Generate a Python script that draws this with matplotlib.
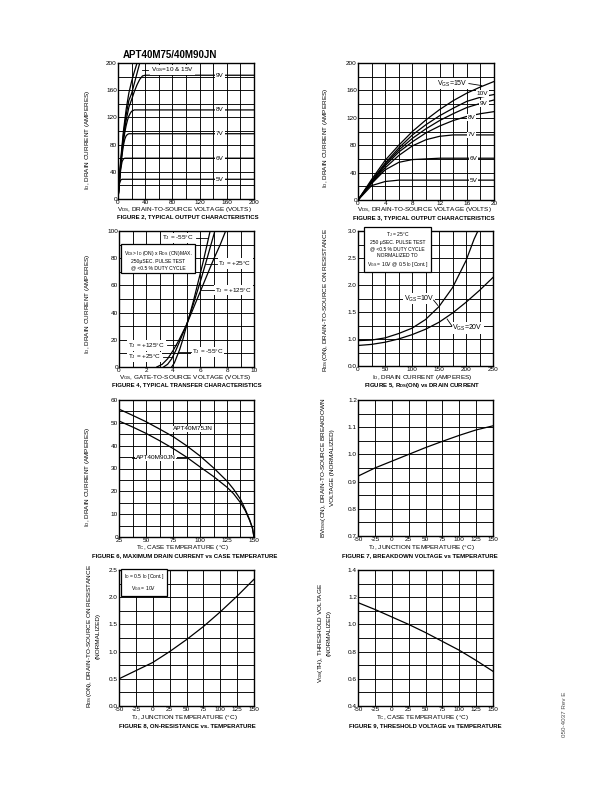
"""APT40M75/40M90JN datasheet page: typical characteristic curves (figures 2-9)."""
import matplotlib
matplotlib.use("Agg")
import matplotlib.pyplot as plt
import numpy as np

plt.rcParams['font.family'] = ['Liberation Sans', 'DejaVu Sans']
plt.rcParams['mathtext.default'] = 'regular'
plt.rcParams['axes.unicode_minus'] = False

# ---- figure 2 / 3: output characteristics, I_D vs V_DS per V_GS
f2_vgs = ['5V', '6V', '7V', '8V', '9V', '10V', '15V']
f2_vds = {'5V': [0, 2, 4, 6, 200],
          '6V': [0, 2, 4, 6, 8, 10, 12, 200],
          '7V': [0, 2, 4, 6, 8, 10, 12, 14, 16, 200],
          '8V': [0, 2, 4, 6, 8, 10, 12, 14, 16, 18, 20, 24, 28, 200],
          '9V': [0, 4, 8, 12, 16, 20, 24, 28, 32, 36, 40, 200],
          '10V': [0, 4, 8, 12, 16, 20, 24, 28, 32],
          '15V': [0, 4, 8, 12, 16, 20, 24, 28]}
f2_id = {'5V': [0, 22, 28, 29, 29],
         '6V': [0, 24, 44, 55, 59, 60, 60, 60],
         '7V': [0, 25, 47, 65, 79, 88, 93, 95, 96, 96],
         '8V': [0, 26, 50, 70, 85, 98, 108, 116, 122, 126, 129, 131, 131, 131],
         '9V': [0, 52, 90, 116, 135, 146, 158, 168, 176, 181, 182, 182],
         '10V': [0, 54, 95, 124, 145, 155, 170, 185, 200],
         '15V': [0, 58, 100, 132, 156, 173, 187, 200]}

f3_vds = [0, 2, 4, 6, 8, 10, 12, 14, 16, 18, 20]
f3_id = {'5V': [0, 21, 27, 29, 29, 29, 29, 29, 29, 29, 29],
         '6V': [0, 24, 44, 55, 59, 60, 61, 61, 61, 61, 61],
         '7V': [0, 25, 47, 65, 79, 88, 93, 95, 95, 95, 95],
         '8V': [0, 26, 50, 70, 85, 98, 108, 116, 122, 126, 129],
         '9V': [0, 27, 52, 73, 90, 104, 116, 126, 135, 141, 146],
         '10V': [0, 28, 54, 76, 95, 110, 123, 134, 144, 150, 154],
         '15V': [0, 30, 58, 80, 100, 117, 132, 145, 156, 165, 173]}

# ---- figure 4: transfer characteristics
f4_vgs = {'-55': [3.9, 4.1, 4.3, 4.5, 4.75, 5.0, 5.25, 5.5, 5.75, 6.0, 6.25, 6.5, 6.75],
          '+25': [3.3, 3.6, 3.9, 4.2, 4.5, 4.75, 5.0, 5.5, 6.0, 6.5, 7.1],
          '+125': [2.8, 3.2, 3.6, 4.0, 4.4, 4.8, 5.0, 5.5, 6.0, 6.5, 7.0, 7.5, 7.9]}
f4_id = {'-55': [0, 3, 8, 13, 21, 30, 39, 48, 58, 68, 78, 89, 100],
         '+25': [0, 2, 6, 12, 19, 25, 31, 46, 62, 79, 100],
         '+125': [0, 2, 6, 12, 19, 27, 31, 43, 55, 67, 79, 90, 100]}

# ---- figure 5: R_DS(ON) vs I_D
f5_id = {'10V': [0, 25, 50, 75, 100, 125, 150, 175, 200, 215, 222],
         '20V': [0, 25, 50, 75, 100, 125, 150, 175, 200, 225, 250]}
f5_r = {'10V': [0.97, 0.98, 1.02, 1.10, 1.20, 1.36, 1.60, 1.95, 2.45, 2.85, 3.0],
        '20V': [0.88, 0.90, 0.94, 1.00, 1.08, 1.18, 1.31, 1.48, 1.68, 1.90, 2.14]}

# ---- figure 6: max drain current vs case temperature
f6_tc = [25, 37.5, 50, 62.5, 75, 87.5, 100, 112.5, 125, 131, 137.5, 142, 146, 148.5, 150]
f6_m75 = [56, 53.3, 50.5, 47.3, 44, 40, 35.5, 30.3, 24.5, 21, 16.5, 12, 7.5, 4, 0]
f6_m90 = [50.8, 48.2, 45.4, 42.2, 38.8, 35, 30.7, 26.5, 21.8, 19, 15, 11.5, 7.2, 4, 0]

# ---- figures 7-9: normalized vs temperature
temp = [-50, -25, 0, 25, 50, 75, 100, 125, 150]
f7_bv = [0.92, 0.95, 0.975, 1.0, 1.025, 1.048, 1.07, 1.09, 1.105]
f8_r = [0.50, 0.65, 0.80, 1.00, 1.22, 1.46, 1.73, 2.02, 2.33]
f9_vth = [1.16, 1.11, 1.055, 1.0, 0.94, 0.875, 0.81, 0.735, 0.655]

W, H = 612, 792
fig = plt.figure(figsize=(W / 100, H / 100), dpi=100)
FS = 4.6
TFS = 4.3


def P(x, y):
    return x / W, 1 - y / H


def frame(l, t, r, b, xlim, ylim, xmaj, ymaj, xmin, ymin):
    ax = fig.add_axes([l / W, 1 - b / H, (r - l) / W, (b - t) / H])
    ax.set_xlim(xlim); ax.set_ylim(ylim)
    ax.set_xticks(xmaj); ax.set_yticks(ymaj)
    ax.set_xticks(xmin, minor=True); ax.set_yticks(ymin, minor=True)
    ax.grid(which='both', color='black', lw=0.65)
    ax.set_axisbelow(True)
    ax.tick_params(which='both', length=0, pad=0.8, labelsize=FS)
    for s in ax.spines.values():
        s.set_linewidth(1.0)
    return ax


def ftext(x, y, s, **kw):
    kw.setdefault('fontsize', FS)
    kw.setdefault('ha', 'center'); kw.setdefault('va', 'center')
    fig.text(*P(x, y), s, **kw)


def lab(ax, x, y, s, **kw):
    kw.setdefault('fontsize', FS)
    ax.text(x, y, s, ha='center', va='center', zorder=5,
            bbox=dict(fc='white', ec='none', pad=0.6), **kw)


def leader(ax, xs, ys):
    ax.plot(xs, ys, color='black', lw=0.6, zorder=6)


WHITE = dict(fc='white', ec='black', lw=0.9, pad=2.0)

ftext(123, 55, 'APT40M75/40M90JN', fontsize=7, weight='bold', ha='left')

# ---------------- figure 2
ax = frame(118, 63, 254, 199, (0, 200), (0, 200), np.arange(0, 201, 40), np.arange(0, 201, 40),
           np.arange(0, 201, 20), np.arange(0, 201, 20))
for v in f2_vgs:
    ax.plot(f2_vds[v], f2_id[v], color='black', lw=0.9)
for v, y in zip(['9V', '8V', '7V', '6V', '5V'], [182, 131, 96, 60, 28]):
    lab(ax, 150, y, v)
lab(ax, 80, 190, 'V$_{GS}$=10 & 15V')
leader(ax, [36, 44], [190, 190])
ftext(88, 140, 'I$_D$, DRAIN CURRENT (AMPERES)', rotation=90)
ftext(184, 209, 'V$_{DS}$, DRAIN-TO-SOURCE VOLTAGE (VOLTS)')
ftext(188, 217, 'FIGURE 2, TYPICAL OUTPUT CHARACTERISTICS', weight='bold', fontsize=TFS)

# ---------------- figure 3
ax = frame(358, 63, 494, 200, (0, 20), (0, 200), np.arange(0, 21, 4), np.arange(0, 201, 40),
           np.arange(0, 21, 2), np.arange(0, 201, 20))
for v in f2_vgs:
    ax.plot(f3_vds, f3_id[v], color='black', lw=0.9)
lab(ax, 13.9, 170, 'V$_{GS}$=15V', fontsize=5)
leader(ax, [16.3, 18.2], [170, 167])
for v, x, y in zip(['10V', '9V', '8V', '7V', '6V', '5V'],
                   [18.3, 18.5, 16.7, 16.7, 17.0, 17.0], [155, 141, 120, 95, 60, 29]):
    lab(ax, x, y, v)
ftext(325, 138, 'I$_D$, DRAIN CURRENT (AMPERES)', rotation=90)
ftext(424, 210, 'V$_{DS}$, DRAIN-TO-SOURCE VOLTAGE (VOLTS)')
ftext(424, 218, 'FIGURE 3, TYPICAL OUTPUT CHARACTERISTICS', weight='bold', fontsize=TFS)

# ---------------- figure 4
ax = frame(119, 231, 254, 367, (0, 10), (0, 100), np.arange(0, 11, 2), np.arange(0, 101, 20),
           np.arange(0, 11, 1), np.arange(0, 101, 10))
for k in ['-55', '+25', '+125']:
    ax.plot(f4_vgs[k], f4_id[k], color='black', lw=0.9)
lab(ax, 4.35, 95, 'T$_J$ = -55°C'); leader(ax, [5.7, 6.55], [95, 95])
lab(ax, 8.6, 76, 'T$_J$ = +25°C'); leader(ax, [7.25, 6.45], [76, 76])
lab(ax, 8.5, 56.5, 'T$_J$ = +125°C'); leader(ax, [7.0, 6.1], [56.5, 56.5])
lab(ax, 2.05, 16, 'T$_J$ = +125°C'); leader(ax, [3.55, 4.2], [16, 16])
lab(ax, 1.9, 7.4, 'T$_J$ = +25°C'); leader(ax, [3.25, 3.95], [7.4, 7.4])
lab(ax, 6.55, 11, 'T$_J$ = -55°C'); leader(ax, [5.3, 4.45], [11, 11])
ax.text(2.9, 79, 'V$_{DS}$> I$_D$ (ON) x R$_{DS}$ (ON)MAX.\n250μSEC. PULSE TEST\n@ <0.5 % DUTY CYCLE',
        fontsize=3.6, ha='center', va='center', linespacing=1.3, zorder=5, bbox=WHITE)
ftext(88, 304, 'I$_D$, DRAIN CURRENT (AMPERES)', rotation=90)
ftext(185, 377, 'V$_{GS}$, GATE-TO-SOURCE VOLTAGE (VOLTS)')
ftext(187, 385, 'FIGURE 4, TYPICAL TRANSFER CHARACTERISTICS', weight='bold', fontsize=TFS)

# ---------------- figure 5
ax = frame(358, 231, 493, 366, (0, 250), (0.5, 3.0), np.arange(0, 251, 50), [0.5, 1.0, 1.5, 2.0, 2.5, 3.0],
           np.arange(0, 251, 25), np.arange(0.5, 3.01, 0.25))
ax.set_yticklabels(['0.0', '1.0', '1.5', '2.0', '2.5', '3.0'])
for k in ['10V', '20V']:
    ax.plot(f5_id[k], f5_r[k], color='black', lw=0.9)
lab(ax, 113, 1.75, 'V$_{GS}$=10V', fontsize=5); leader(ax, [140, 148], [1.72, 1.62])
lab(ax, 203, 1.2, 'V$_{GS}$=20V', fontsize=5); leader(ax, [174, 165], [1.24, 1.37])
ax.text(73, 2.66, 'T$_J$ = 25°C\n250 μSEC. PULSE TEST\n@ <0.5 % DUTY CYCLE\nNORMALIZED TO\n'
        'V$_{GS}$ = 10V @ 0.5 I$_D$ [Cont.]',
        fontsize=3.6, ha='center', va='center', linespacing=1.35, zorder=5, bbox=WHITE)
ftext(325, 300, 'R$_{DS}$(ON), DRAIN-TO-SOURCE ON RESISTANCE', rotation=90)
ftext(422, 377, 'I$_D$, DRAIN CURRENT (AMPERES)')
ftext(422, 386, 'FIGURE 5, R$_{DS}$(ON) vs DRAIN CURRENT', weight='bold', fontsize=TFS)

# ---------------- figure 6
ax = frame(119, 400, 254, 537, (25, 150), (0, 60), np.arange(25, 151, 25), np.arange(0, 61, 10),
           np.arange(25, 151, 12.5), np.arange(0, 61, 5))
ax.plot(f6_tc, f6_m75, color='black', lw=0.9)
ax.plot(f6_tc, f6_m90, color='black', lw=0.9)
lab(ax, 93, 47.3, 'APT40M75JN')
lab(ax, 59.5, 34.6, 'APT40M90JN')
leader(ax, [37, 41], [34.6, 34.6]); leader(ax, [78, 87], [34.6, 34.6])
ftext(88, 477, 'I$_D$, DRAIN CURRENT (AMPERES)', rotation=90)
ftext(182, 547, 'T$_C$, CASE TEMPERATURE (°C)')
ftext(185, 556, 'FIGURE 6, MAXIMUM DRAIN CURRENT vs CASE TEMPERATURE', weight='bold', fontsize=TFS)

# ---------------- figure 7
ax = frame(358, 400, 493, 536, (-50, 150), (0.7, 1.2), np.arange(-50, 151, 25), np.arange(0.7, 1.21, 0.1),
           np.arange(-50, 151, 25), np.arange(0.7, 1.21, 0.05))
ax.set_yticklabels(['0.7', '0.8', '0.9', '1.0', '1.1', '1.2'])
ax.plot(temp, f7_bv, color='black', lw=0.9)
ftext(327, 468, 'BV$_{DSS}$(ON), DRAIN-TO-SOURCE BREAKDOWN\nVOLTAGE (NORMALIZED)', rotation=90,
      linespacing=1.3)
ftext(421, 547, 'T$_J$, JUNCTION TEMPERATURE (°C)')
ftext(420, 556, 'FIGURE 7, BREAKDOWN VOLTAGE vs TEMPERATURE', weight='bold', fontsize=TFS)

# ---------------- figure 8
ax = frame(119, 570, 254, 706, (-50, 150), (0, 2.5), np.arange(-50, 151, 25), np.arange(0, 2.51, 0.5),
           np.arange(-50, 151, 25), np.arange(0, 2.51, 0.25))
ax.plot(temp, f8_r, color='black', lw=0.9)
ax.text(-13, 2.27, 'I$_D$ = 0.5 I$_D$ [Cont.]\nV$_{GS}$ = 10V', fontsize=3.6, ha='center', va='center',
        linespacing=1.5, zorder=5, bbox=WHITE)
ftext(93, 636, 'R$_{DS}$(ON), DRAIN-TO-SOURCE ON RESISTANCE\n(NORMALIZED)', rotation=90, linespacing=1.3)
ftext(184, 717, 'T$_J$, JUNCTION TEMPERATURE (°C)')
ftext(187, 726, 'FIGURE 8, ON-RESISTANCE vs. TEMPERATURE', weight='bold', fontsize=TFS)

# ---------------- figure 9
ax = frame(358, 570, 493, 706, (-50, 150), (0.4, 1.4), np.arange(-50, 151, 25), np.arange(0.4, 1.41, 0.2),
           np.arange(-50, 151, 25), np.arange(0.4, 1.41, 0.1))
ax.set_yticklabels(['0.4', '0.6', '0.8', '1.0', '1.2', '1.4'])
ax.plot(temp, f9_vth, color='black', lw=0.9)
ftext(324, 633, 'V$_{GS}$(TH), THRESHOLD VOLTAGE\n(NORMALIZED)', rotation=90, linespacing=1.3)
ftext(422, 717, 'T$_C$, CASE TEMPERATURE (°C)')
ftext(425, 726, 'FIGURE 9, THRESHOLD VOLTAGE vs TEMPERATURE', weight='bold', fontsize=TFS)

ftext(564, 714, '050-4037 Rev E', rotation=90, fontsize=4.5, color='0.3')

fig.savefig('out.png', dpi=100)
print('wrote out.png')
